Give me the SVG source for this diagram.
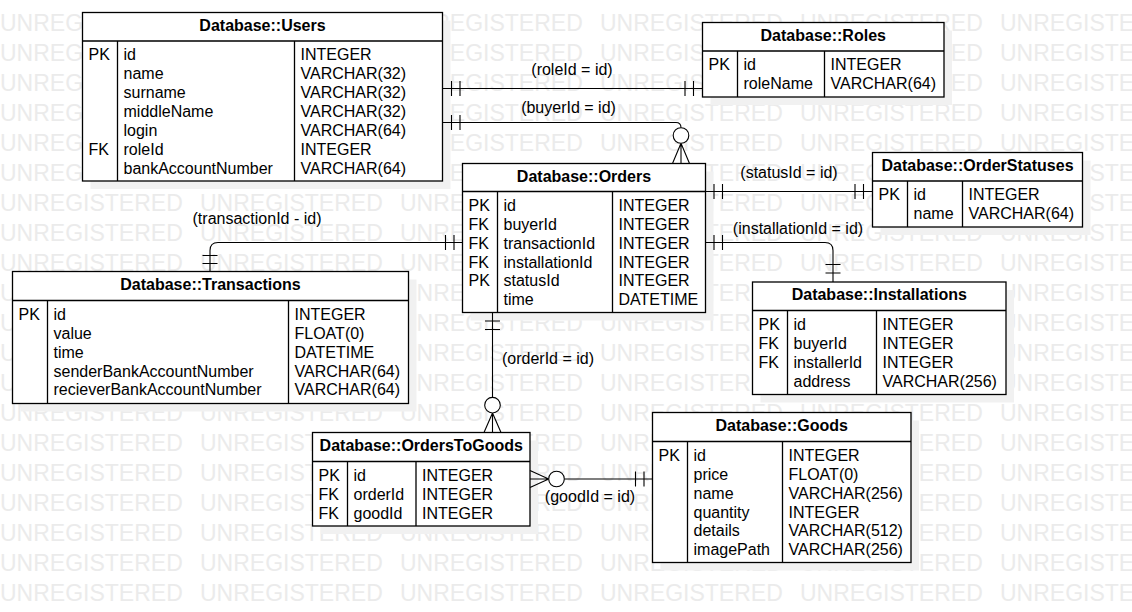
<svg xmlns="http://www.w3.org/2000/svg" width="1132" height="612" viewBox="0 0 1132 612">
<style>
.wm{font-family:"Liberation Sans",Arial,sans-serif;font-size:23px;fill:#ebebeb}
.t{font-family:"Liberation Sans",Arial,sans-serif;font-size:16px;fill:#000}
.h{font-family:"Liberation Sans",Arial,sans-serif;font-size:16px;font-weight:bold;fill:#000;text-anchor:middle}
.lbl{font-family:"Liberation Sans",Arial,sans-serif;font-size:16px;fill:#000;text-anchor:middle}
.box{fill:#fff;stroke:#000;stroke-width:1.3}
.sh{fill:#f1f1f1}
.div{stroke:#000;stroke-width:1.3;fill:none}
.ln{stroke:#000;stroke-width:1.1;fill:none}
.circ{stroke:#000;stroke-width:1.1;fill:#fff}
</style>
<rect width="1132" height="612" fill="#fff"/>
<g id="watermark">
<text class="wm" y="31"><tspan x="0">UNREGISTERED</tspan><tspan x="200">UNREGISTERED</tspan><tspan x="400">UNREGISTERED</tspan><tspan x="600">UNREGISTERED</tspan><tspan x="800">UNREGISTERED</tspan><tspan x="1000">UNREGISTERED</tspan></text>
<text class="wm" y="61"><tspan x="0">UNREGISTERED</tspan><tspan x="200">UNREGISTERED</tspan><tspan x="400">UNREGISTERED</tspan><tspan x="600">UNREGISTERED</tspan><tspan x="800">UNREGISTERED</tspan><tspan x="1000">UNREGISTERED</tspan></text>
<text class="wm" y="91"><tspan x="0">UNREGISTERED</tspan><tspan x="200">UNREGISTERED</tspan><tspan x="400">UNREGISTERED</tspan><tspan x="600">UNREGISTERED</tspan><tspan x="800">UNREGISTERED</tspan><tspan x="1000">UNREGISTERED</tspan></text>
<text class="wm" y="121"><tspan x="0">UNREGISTERED</tspan><tspan x="200">UNREGISTERED</tspan><tspan x="400">UNREGISTERED</tspan><tspan x="600">UNREGISTERED</tspan><tspan x="800">UNREGISTERED</tspan><tspan x="1000">UNREGISTERED</tspan></text>
<text class="wm" y="151"><tspan x="0">UNREGISTERED</tspan><tspan x="200">UNREGISTERED</tspan><tspan x="400">UNREGISTERED</tspan><tspan x="600">UNREGISTERED</tspan><tspan x="800">UNREGISTERED</tspan><tspan x="1000">UNREGISTERED</tspan></text>
<text class="wm" y="181"><tspan x="0">UNREGISTERED</tspan><tspan x="200">UNREGISTERED</tspan><tspan x="400">UNREGISTERED</tspan><tspan x="600">UNREGISTERED</tspan><tspan x="800">UNREGISTERED</tspan><tspan x="1000">UNREGISTERED</tspan></text>
<text class="wm" y="211"><tspan x="0">UNREGISTERED</tspan><tspan x="200">UNREGISTERED</tspan><tspan x="400">UNREGISTERED</tspan><tspan x="600">UNREGISTERED</tspan><tspan x="800">UNREGISTERED</tspan><tspan x="1000">UNREGISTERED</tspan></text>
<text class="wm" y="241"><tspan x="0">UNREGISTERED</tspan><tspan x="200">UNREGISTERED</tspan><tspan x="400">UNREGISTERED</tspan><tspan x="600">UNREGISTERED</tspan><tspan x="800">UNREGISTERED</tspan><tspan x="1000">UNREGISTERED</tspan></text>
<text class="wm" y="271"><tspan x="0">UNREGISTERED</tspan><tspan x="200">UNREGISTERED</tspan><tspan x="400">UNREGISTERED</tspan><tspan x="600">UNREGISTERED</tspan><tspan x="800">UNREGISTERED</tspan><tspan x="1000">UNREGISTERED</tspan></text>
<text class="wm" y="301"><tspan x="0">UNREGISTERED</tspan><tspan x="200">UNREGISTERED</tspan><tspan x="400">UNREGISTERED</tspan><tspan x="600">UNREGISTERED</tspan><tspan x="800">UNREGISTERED</tspan><tspan x="1000">UNREGISTERED</tspan></text>
<text class="wm" y="331"><tspan x="0">UNREGISTERED</tspan><tspan x="200">UNREGISTERED</tspan><tspan x="400">UNREGISTERED</tspan><tspan x="600">UNREGISTERED</tspan><tspan x="800">UNREGISTERED</tspan><tspan x="1000">UNREGISTERED</tspan></text>
<text class="wm" y="361"><tspan x="0">UNREGISTERED</tspan><tspan x="200">UNREGISTERED</tspan><tspan x="400">UNREGISTERED</tspan><tspan x="600">UNREGISTERED</tspan><tspan x="800">UNREGISTERED</tspan><tspan x="1000">UNREGISTERED</tspan></text>
<text class="wm" y="391"><tspan x="0">UNREGISTERED</tspan><tspan x="200">UNREGISTERED</tspan><tspan x="400">UNREGISTERED</tspan><tspan x="600">UNREGISTERED</tspan><tspan x="800">UNREGISTERED</tspan><tspan x="1000">UNREGISTERED</tspan></text>
<text class="wm" y="421"><tspan x="0">UNREGISTERED</tspan><tspan x="200">UNREGISTERED</tspan><tspan x="400">UNREGISTERED</tspan><tspan x="600">UNREGISTERED</tspan><tspan x="800">UNREGISTERED</tspan><tspan x="1000">UNREGISTERED</tspan></text>
<text class="wm" y="451"><tspan x="0">UNREGISTERED</tspan><tspan x="200">UNREGISTERED</tspan><tspan x="400">UNREGISTERED</tspan><tspan x="600">UNREGISTERED</tspan><tspan x="800">UNREGISTERED</tspan><tspan x="1000">UNREGISTERED</tspan></text>
<text class="wm" y="481"><tspan x="0">UNREGISTERED</tspan><tspan x="200">UNREGISTERED</tspan><tspan x="400">UNREGISTERED</tspan><tspan x="600">UNREGISTERED</tspan><tspan x="800">UNREGISTERED</tspan><tspan x="1000">UNREGISTERED</tspan></text>
<text class="wm" y="511"><tspan x="0">UNREGISTERED</tspan><tspan x="200">UNREGISTERED</tspan><tspan x="400">UNREGISTERED</tspan><tspan x="600">UNREGISTERED</tspan><tspan x="800">UNREGISTERED</tspan><tspan x="1000">UNREGISTERED</tspan></text>
<text class="wm" y="541"><tspan x="0">UNREGISTERED</tspan><tspan x="200">UNREGISTERED</tspan><tspan x="400">UNREGISTERED</tspan><tspan x="600">UNREGISTERED</tspan><tspan x="800">UNREGISTERED</tspan><tspan x="1000">UNREGISTERED</tspan></text>
<text class="wm" y="571"><tspan x="0">UNREGISTERED</tspan><tspan x="200">UNREGISTERED</tspan><tspan x="400">UNREGISTERED</tspan><tspan x="600">UNREGISTERED</tspan><tspan x="800">UNREGISTERED</tspan><tspan x="1000">UNREGISTERED</tspan></text>
<text class="wm" y="601"><tspan x="0">UNREGISTERED</tspan><tspan x="200">UNREGISTERED</tspan><tspan x="400">UNREGISTERED</tspan><tspan x="600">UNREGISTERED</tspan><tspan x="800">UNREGISTERED</tspan><tspan x="1000">UNREGISTERED</tspan></text>
</g>

<g id="Users">
<rect class="sh" x="90.5" y="20.5" width="360" height="168.5"/>
<rect class="box" x="82.5" y="12.5" width="360" height="168.5"/>
<path class="div" d="M82.5,41 H442.5 M117.5,41 V181 M294.5,41 V181"/>
<text class="h" x="262.5" y="30.5">Database::Users</text>
<text class="t"><tspan x="88.5" y="60.3">PK</tspan><tspan x="88.5" y="154.8">FK</tspan></text>
<text class="t"><tspan x="123.5" y="60.3">id</tspan><tspan x="123.5" y="79.2">name</tspan><tspan x="123.5" y="98.1">surname</tspan><tspan x="123.5" y="117">middleName</tspan><tspan x="123.5" y="135.9">login</tspan><tspan x="123.5" y="154.8">roleId</tspan><tspan x="123.5" y="173.7">bankAccountNumber</tspan></text>
<text class="t"><tspan x="300.5" y="60.3">INTEGER</tspan><tspan x="300.5" y="79.2">VARCHAR(32)</tspan><tspan x="300.5" y="98.1">VARCHAR(32)</tspan><tspan x="300.5" y="117">VARCHAR(32)</tspan><tspan x="300.5" y="135.9">VARCHAR(64)</tspan><tspan x="300.5" y="154.8">INTEGER</tspan><tspan x="300.5" y="173.7">VARCHAR(64)</tspan></text>
</g>

<g id="Roles">
<rect class="sh" x="710.5" y="30.5" width="241.5" height="74.5"/>
<rect class="box" x="702.5" y="22.5" width="241.5" height="74.5"/>
<path class="div" d="M702.5,51 H944 M737.5,51 V97 M824.5,51 V97"/>
<text class="h" x="823.25" y="40.5">Database::Roles</text>
<text class="t"><tspan x="708.5" y="70.3">PK</tspan></text>
<text class="t"><tspan x="743.5" y="70.3">id</tspan><tspan x="743.5" y="89.2">roleName</tspan></text>
<text class="t"><tspan x="830.5" y="70.3">INTEGER</tspan><tspan x="830.5" y="89.2">VARCHAR(64)</tspan></text>
</g>

<g id="Orders">
<rect class="sh" x="470.5" y="171.5" width="243" height="149"/>
<rect class="box" x="462.5" y="163.5" width="243" height="149"/>
<path class="div" d="M462.5,191.5 H705.5 M497.5,191.5 V312.5 M612.5,191.5 V312.5"/>
<text class="h" x="584" y="181.5">Database::Orders</text>
<text class="t"><tspan x="468.5" y="210.8">PK</tspan><tspan x="468.5" y="229.7">FK</tspan><tspan x="468.5" y="248.6">FK</tspan><tspan x="468.5" y="267.5">FK</tspan><tspan x="468.5" y="286.4">PK</tspan></text>
<text class="t"><tspan x="503.5" y="210.8">id</tspan><tspan x="503.5" y="229.7">buyerId</tspan><tspan x="503.5" y="248.6">transactionId</tspan><tspan x="503.5" y="267.5">installationId</tspan><tspan x="503.5" y="286.4">statusId</tspan><tspan x="503.5" y="305.3">time</tspan></text>
<text class="t"><tspan x="618.5" y="210.8">INTEGER</tspan><tspan x="618.5" y="229.7">INTEGER</tspan><tspan x="618.5" y="248.6">INTEGER</tspan><tspan x="618.5" y="267.5">INTEGER</tspan><tspan x="618.5" y="286.4">INTEGER</tspan><tspan x="618.5" y="305.3">DATETIME</tspan></text>
</g>

<g id="OrderStatuses">
<rect class="sh" x="880.5" y="160.5" width="210" height="74.5"/>
<rect class="box" x="872.5" y="152.5" width="210" height="74.5"/>
<path class="div" d="M872.5,181 H1082.5 M907.5,181 V227 M962.5,181 V227"/>
<text class="h" x="977.5" y="170.5">Database::OrderStatuses</text>
<text class="t"><tspan x="878.5" y="200.3">PK</tspan></text>
<text class="t"><tspan x="913.5" y="200.3">id</tspan><tspan x="913.5" y="219.2">name</tspan></text>
<text class="t"><tspan x="968.5" y="200.3">INTEGER</tspan><tspan x="968.5" y="219.2">VARCHAR(64)</tspan></text>
</g>

<g id="Transactions">
<rect class="sh" x="20.5" y="279.5" width="396" height="132"/>
<rect class="box" x="12.5" y="271.5" width="396" height="132"/>
<path class="div" d="M12.5,300.5 H408.5 M47.5,300.5 V403.5 M288.5,300.5 V403.5"/>
<text class="h" x="210.5" y="289.5">Database::Transactions</text>
<text class="t"><tspan x="18.5" y="319.8">PK</tspan></text>
<text class="t"><tspan x="53.5" y="319.8">id</tspan><tspan x="53.5" y="338.7">value</tspan><tspan x="53.5" y="357.6">time</tspan><tspan x="53.5" y="376.5">senderBankAccountNumber</tspan><tspan x="53.5" y="395.4">recieverBankAccountNumber</tspan></text>
<text class="t"><tspan x="294.5" y="319.8">INTEGER</tspan><tspan x="294.5" y="338.7">FLOAT(0)</tspan><tspan x="294.5" y="357.6">DATETIME</tspan><tspan x="294.5" y="376.5">VARCHAR(64)</tspan><tspan x="294.5" y="395.4">VARCHAR(64)</tspan></text>
</g>

<g id="Installations">
<rect class="sh" x="760.5" y="290" width="253.5" height="112.5"/>
<rect class="box" x="752.5" y="282" width="253.5" height="112.5"/>
<path class="div" d="M752.5,310.5 H1006 M787.5,310.5 V394.5 M876.5,310.5 V394.5"/>
<text class="h" x="879.25" y="300">Database::Installations</text>
<text class="t"><tspan x="758.5" y="329.8">PK</tspan><tspan x="758.5" y="348.7">FK</tspan><tspan x="758.5" y="367.6">FK</tspan></text>
<text class="t"><tspan x="793.5" y="329.8">id</tspan><tspan x="793.5" y="348.7">buyerId</tspan><tspan x="793.5" y="367.6">installerId</tspan><tspan x="793.5" y="386.5">address</tspan></text>
<text class="t"><tspan x="882.5" y="329.8">INTEGER</tspan><tspan x="882.5" y="348.7">INTEGER</tspan><tspan x="882.5" y="367.6">INTEGER</tspan><tspan x="882.5" y="386.5">VARCHAR(256)</tspan></text>
</g>

<g id="OrdersToGoods">
<rect class="sh" x="320.5" y="440.5" width="217.5" height="93.5"/>
<rect class="box" x="312.5" y="432.5" width="217.5" height="93.5"/>
<path class="div" d="M312.5,461.5 H530 M347.5,461.5 V526 M416,461.5 V526"/>
<text class="h" x="421.25" y="450.5">Database::OrdersToGoods</text>
<text class="t"><tspan x="318.5" y="480.8">PK</tspan><tspan x="318.5" y="499.7">FK</tspan><tspan x="318.5" y="518.6">FK</tspan></text>
<text class="t"><tspan x="353.5" y="480.8">id</tspan><tspan x="353.5" y="499.7">orderId</tspan><tspan x="353.5" y="518.6">goodId</tspan></text>
<text class="t"><tspan x="422" y="480.8">INTEGER</tspan><tspan x="422" y="499.7">INTEGER</tspan><tspan x="422" y="518.6">INTEGER</tspan></text>
</g>

<g id="Goods">
<rect class="sh" x="660.5" y="420.5" width="258.5" height="150"/>
<rect class="box" x="652.5" y="412.5" width="258.5" height="150"/>
<path class="div" d="M652.5,441.5 H911 M687.5,441.5 V562.5 M782.5,441.5 V562.5"/>
<text class="h" x="781.75" y="430.5">Database::Goods</text>
<text class="t"><tspan x="658.5" y="460.8">PK</tspan></text>
<text class="t"><tspan x="693.5" y="460.8">id</tspan><tspan x="693.5" y="479.7">price</tspan><tspan x="693.5" y="498.6">name</tspan><tspan x="693.5" y="517.5">quantity</tspan><tspan x="693.5" y="536.4">details</tspan><tspan x="693.5" y="555.3">imagePath</tspan></text>
<text class="t"><tspan x="788.5" y="460.8">INTEGER</tspan><tspan x="788.5" y="479.7">FLOAT(0)</tspan><tspan x="788.5" y="498.6">VARCHAR(256)</tspan><tspan x="788.5" y="517.5">INTEGER</tspan><tspan x="788.5" y="536.4">VARCHAR(512)</tspan><tspan x="788.5" y="555.3">VARCHAR(256)</tspan></text>
</g>

<g id="connectors">
<path class="ln" d="M442.5,88.5 H702.5 M451.5,81 V96 M460,81 V96 M685,81 V96 M693.5,81 V96"/>
<path class="ln" d="M442.5,122.5 H676 Q681,122.5 681,127.7 M451.5,115 V130 M460,115 V130 M681,143.3 L672.5,163.5 M681,143.3 V163.5 M681,143.3 L689.5,163.5"/>
<circle class="circ" cx="681" cy="135.5" r="7.8"/>
<path class="ln" d="M705.5,191.5 H872.5 M714,184 V199 M722.5,184 V199 M855,184 V199 M863.5,184 V199"/>
<path class="ln" d="M705.5,242.5 H825 Q833,242.5 833,250.5 V282 M714,235 V250 M722.5,235 V250 M825.5,264.5 H840.5 M825.5,273 H840.5"/>
<path class="ln" d="M462.5,242.5 H218 Q210,242.5 210,250.5 V271.5 M454,235 V250 M445.5,235 V250 M202.5,255.5 H217.5 M202.5,263.5 H217.5"/>
<path class="ln" d="M492.5,312.5 V397.4 M485,321 H500 M485,329.5 H500 M492.5,413 L484,432.5 M492.5,413 V432.5 M492.5,413 L501,432.5"/>
<circle class="circ" cx="492.5" cy="405.2" r="7.8"/>
<path class="ln" d="M564.3,479 H652.5 M548.7,479 L530,470.5 M548.7,479 H530 M548.7,479 L530,487.5 M635.5,471.5 V486.5 M644,471.5 V486.5"/>
<circle class="circ" cx="556.5" cy="479" r="7.8"/>
<text class="lbl" x="572" y="75">(roleId = id)</text>
<text class="lbl" x="568.5" y="113">(buyerId = id)</text>
<text class="lbl" x="789" y="178">(statusId = id)</text>
<text class="lbl" x="798" y="234">(installationId = id)</text>
<text class="lbl" x="257" y="224">(transactionId - id)</text>
<text class="lbl" x="548" y="364">(orderId = id)</text>
<text class="lbl" x="590" y="502">(goodId = id)</text>
</g>
</svg>
